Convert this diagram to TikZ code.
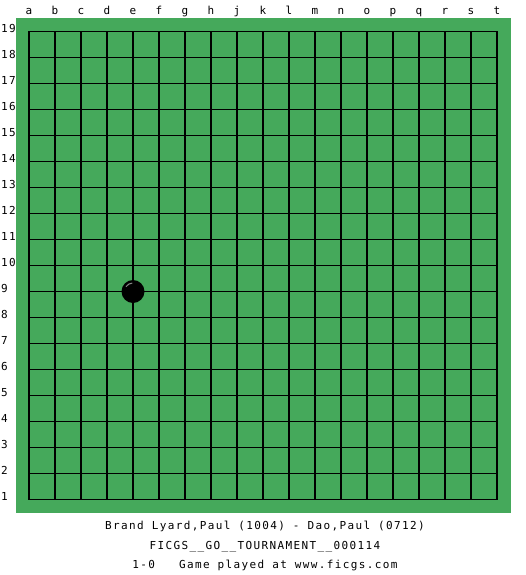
\documentclass[tikz,border=0pt]{standalone}
\usepackage{fontspec}
\newfontfamily\boardfont{DejaVu Sans Mono}[LetterSpace=12.5]
\usetikzlibrary{calc}
\definecolor{felt}{HTML}{45A95B}
\definecolor{gloss}{HTML}{8A8A8A}

\begin{document}
\begin{tikzpicture}[x=1pt,y=-1pt,
  rim/.style={inner sep=0pt,font=\boardfont\fontsize{11}{12}\selectfont},
  caption/.style={inner sep=0pt,font=\boardfont\fontsize{11}{12}\selectfont},
  gridline/.style={line width=1.8pt},
  stone/.style={circle,fill=black,inner sep=0pt,minimum size=23pt}]
 \useasboundingbox (0,0) rectangle (525,575);
 \fill[felt] (16,18.3) rectangle (511,512.7);
 \begin{scope}[shift={(29,31.5)},x=26pt,y=-26pt]
  % lines of the board
  \foreach \i in {1,...,17}{
   \draw[gridline] (\i,0) -- (\i,18);
   \draw[gridline] (0,\i) -- (18,\i);
  }
  \draw[gridline] (0,0) rectangle (18,18);
  % letters and numbers
  \foreach \c [count=\i from 0] in {a,b,c,d,e,f,g,h,j,k,l,m,n,o,p,q,r,s,t}
   \node[rim,anchor=base] (col-\c) at (\i,-0.67) {\c};
  \foreach \n in {1,...,19}
   \node[rim,anchor=base west] (row-\n) at (-1.077,{19-\n+0.04}) {\n};
  % the one stone
  \node[stone] (e9) at (4,10) {};
  \draw[gloss,line width=1pt] ($(e9.center)+(145:8.5pt)$) arc (145:95:8.5pt);
 \end{scope}
 \node[caption,anchor=base] (players) at (265,529.3) {Brand Lyard,Paul (1004) - Dao,Paul (0712)};
 \node[caption,anchor=base] (event) at (265,549.3) {FICGS\_\_GO\_\_TOURNAMENT\_\_000114};
 \node[caption,anchor=base] (result) at (265,568.7) {1-0\ \ \ Game played at www.ficgs.com};
\end{tikzpicture}
\end{document}
